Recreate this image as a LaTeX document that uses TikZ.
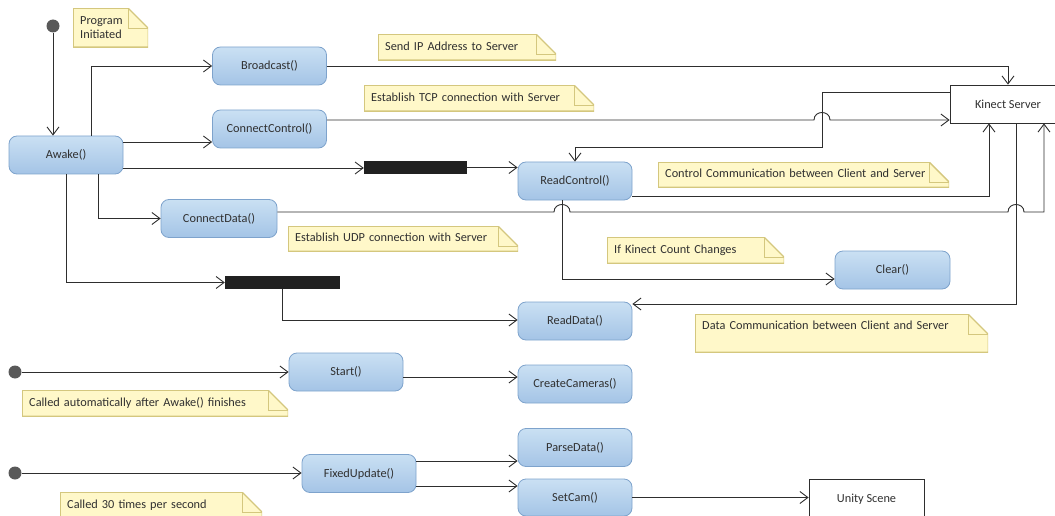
\documentclass[tikz,border=0pt]{standalone}
\usepackage{fontspec}
\setmainfont{Carlito}
\usetikzlibrary{arrows.meta,calc}
\definecolor{nodefillT}{HTML}{CAE0F3}
\definecolor{nodefillB}{HTML}{A4C4E6}
\definecolor{nodeline}{HTML}{7EA3CC}
\definecolor{notefill}{HTML}{FFF8C9}
\definecolor{noteline}{HTML}{D4C77E}
\definecolor{linec}{HTML}{2E2E2E}
\definecolor{textc}{HTML}{303030}
\begin{document}
\begin{tikzpicture}[x=1pt,y=-1pt,
  every node/.style={font=\fontsize{12.3}{14}\selectfont, text=textc},
  state/.style={rectangle, rounded corners=8pt, draw=nodeline, line width=0.8pt,
    top color=nodefillT, bottom color=nodefillB, minimum width=114pt,
    minimum height=38pt, inner sep=0pt},
  bar/.style={rectangle, fill=black!87, minimum height=13pt, inner sep=0pt},
  dot/.style={circle, fill=black!65, minimum size=13pt, inner sep=0pt},
  box/.style={rectangle, draw=linec, line width=0.8pt, fill=white,
    minimum height=38pt, inner sep=0pt},
  conn/.style={draw=linec, line width=0.9pt, -{Straight Barb[length=8pt,width=12pt]}},
  note/.style={rectangle, anchor=north west, fill=notefill, inner xsep=7pt,
    inner ysep=0pt, align=left,
    path picture={
      \fill[white] ([xshift=-20pt]path picture bounding box.north east)
        -- (path picture bounding box.north east)
        -- ([yshift=-20pt]path picture bounding box.north east) -- cycle;
      \draw[noteline, line width=0.8pt]
        ([xshift=-20pt]path picture bounding box.north east)
        -- ([xshift=-20pt,yshift=-20pt]path picture bounding box.north east)
        -- ([yshift=-20pt]path picture bounding box.north east);
      \draw[noteline, line width=1.4pt, line join=miter]
        (path picture bounding box.north west)
        -- ([xshift=-20pt]path picture bounding box.north east)
        -- ([yshift=-20pt]path picture bounding box.north east)
        -- (path picture bounding box.south east)
        -- (path picture bounding box.south west) -- cycle;
    }},
  notel/.style={note, text height=9pt, text depth=2.5pt}
]
\useasboundingbox (0,0) rectangle (1055,516);

% notes
\node[note, text width=61pt, minimum height=39pt] (nPI) at (73,8) {Program\\Initiated};
\node[notel, text width=164pt, minimum height=26pt] (nSIP) at (378,34) {Send IP Address to Server};
\node[notel, text width=216pt, minimum height=26pt] (nTCP) at (364,85) {Establish TCP connection with Server};
\node[notel, text width=277pt, minimum height=25pt] (nCTL) at (658,162) {Control Communication between Client and Server};
\node[notel, text width=216pt, minimum height=25pt] (nUDP) at (288,226) {Establish UDP connection with Server};
\node[notel, text width=163pt, minimum height=26pt] (nIFK) at (607,237) {If Kinect Count Changes};
\node[notel, text width=279pt, minimum height=38pt, text depth=17pt] (nDAT) at (695,314) {Data Communication between Client and Server};
\node[notel, text width=252pt, minimum height=26pt] (nAUT) at (22,390) {Called automatically after Awake() finishes};
\node[notel, text width=188pt, minimum height=26pt] (nTHR) at (60,492) {Called 30 times per second};

% states
\node[dot] (d0) at (53,26) {};
\node[state] (Aw) at (66,155) {Awake()};
\node[state] (BC) at (269.5,66) {Broadcast()};
\node[state] (CC) at (269.5,129) {ConnectControl()};
\node[state, minimum width=116pt] (CD) at (219,218.5) {ConnectData()};
\node[bar, minimum width=103pt] (b1) at (415.5,167.5) {};
\node[bar, minimum width=115pt] (b2) at (282.5,282.5) {};
\node[state] (RC) at (575,181) {ReadControl()};
\node[state] (RD) at (575,321) {ReadData()};
\node[state, minimum width=115pt] (CL) at (892.5,270) {Clear()};
\node[box, minimum width=116pt] (KS) at (1008,104) {Kinect Server};
\node[dot] (d1) at (15,372) {};
\node[state] (ST) at (346,372) {Start()};
\node[state] (CR) at (575,384) {CreateCameras()};
\node[dot] (d2) at (15,473) {};
\node[state] (FU) at (359,473.5) {FixedUpdate()};
\node[state] (PD) at (575,447.5) {ParseData()};
\node[state, minimum height=37pt] (SC) at (575,497.5) {SetCam()};
\node[box, minimum width=115pt, minimum height=40pt] (US) at (866.5,499) {Unity Scene};

\coordinate (hA) at (822,120);
\coordinate (hB) at (562,212);
\coordinate (hC) at (1016,212);

% connectors
\draw[conn] (d0.south) -- (d0 |- Aw.north);
\draw[conn] ([xshift=25pt]Aw.north) |- (BC.west);
\draw[conn] ([yshift=13pt]Aw.east) -- ([yshift=13pt]Aw.east -| CC.west);
\draw[conn] ([yshift=-13pt]Aw.east) -- ([yshift=-13pt]Aw.east -| b1.west);
\draw[conn] (b1.east) -- (b1.east -| RC.west);
\draw[conn] ([xshift=32pt]Aw.south) |- (CD.west);
\draw[conn] (Aw.south) |- (b2.west);
\draw[conn] (b2.south) |- ([yshift=1pt]RD.west);
\draw[conn] (BC.east) -| (KS.north);
\draw[conn] ([yshift=9pt]CC.east) -- ([xshift=-8pt]hA)
  .. controls ([xshift=-8pt,yshift=10pt]hA) and ([xshift=8pt,yshift=10pt]hA) .. ([xshift=8pt]hA)
  -- ([yshift=-16pt]KS.west);
\draw[conn] ([yshift=12pt]KS.west) -| ([yshift=-27pt]hA) -| (RC.north);
\draw[conn] ([yshift=-15pt]RC.east) -| ([xshift=-19pt]KS.south);
\draw[conn] ([yshift=6.5pt]CD.east) -- ([xshift=-8pt]hB)
  .. controls ([xshift=-8pt,yshift=10pt]hB) and ([xshift=8pt,yshift=10pt]hB) .. ([xshift=8pt]hB)
  -- ([xshift=-8pt]hC)
  .. controls ([xshift=-8pt,yshift=10pt]hC) and ([xshift=8pt,yshift=10pt]hC) .. ([xshift=8pt]hC)
  -| ([xshift=36pt]KS.south);
\draw[conn] ([xshift=8pt]KS.south) |- ([yshift=17pt]RD.east);
\draw[conn] ([xshift=-13pt]RC.south) |- ([yshift=-9pt]CL.west);
\draw[conn] (d1.east) -- (ST.west);
\draw[conn] ([yshift=-5pt]ST.east) -- ([yshift=-5pt]ST.east -| CR.west);
\draw[conn] (d2.east) -- (d2.east -| FU.west);
\draw[conn] ([yshift=12.5pt]FU.east) -- ([yshift=12.5pt]FU.east -| PD.west);
\draw[conn] ([yshift=-12.5pt]FU.east) -- ([yshift=-12.5pt]FU.east -| SC.west);
\draw[conn] (SC.east) -- (SC.east -| US.west);
\end{tikzpicture}
\end{document}
